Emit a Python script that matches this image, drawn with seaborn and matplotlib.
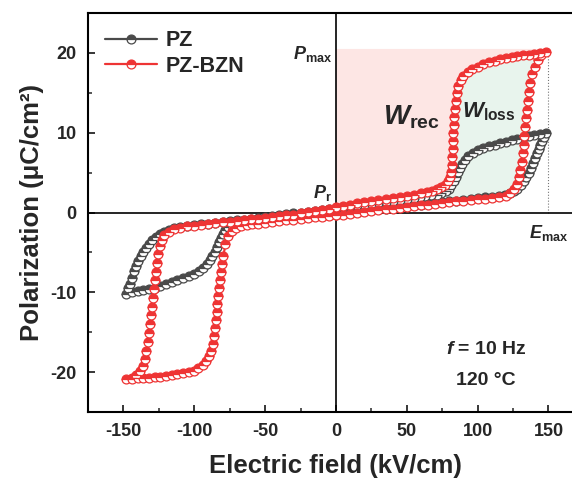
import numpy as np
import pandas as pd
import matplotlib
matplotlib.use("Agg")
import matplotlib.pyplot as plt
from matplotlib.ticker import MultipleLocator
import seaborn as sns

# ---------------- data ----------------
# PZ-BZN loop, four branches: A (0 -> +Emax), B (+Emax -> 0), C (0 -> -Emax), D (-Emax -> 0)
bzn_A_E = [0, 5, 10, 15, 20, 25, 30, 35, 40, 45, 50, 55, 60, 65, 70, 75, 80, 85, 90, 95, 100, 105, 110, 115, 120,
           123, 125.5, 127.5, 129, 130, 131, 131.8, 132.5, 133, 133.5, 134, 134.6, 135.3, 136.2, 137.3, 138.7,
           140.5, 142.5, 145, 148]
bzn_A_P = [-0.35, -0.25, -0.15, 0.0, 0.1, 0.2, 0.3, 0.4, 0.5, 0.6, 0.7, 0.8, 0.9, 1.0, 1.1, 1.2, 1.3, 1.4, 1.5, 1.55,
           1.65, 1.75, 1.85, 1.95, 2.1, 2.4, 2.9, 3.6, 4.4, 5.3, 6.3, 7.4, 8.5, 9.6, 10.7, 11.8, 12.9, 14.0, 15.1,
           16.2, 17.3, 18.3, 19.1, 19.7, 20.1]
bzn_B_E = [148, 144, 140, 136, 132, 128, 124, 120, 116, 112, 108, 104, 100, 96, 93, 90, 88, 86.5, 85.5, 84.7, 84.1,
           83.6, 83.2, 82.9, 82.6, 82.3, 82, 81.6, 81.1, 80.3, 79, 77, 74.5, 71.5, 68, 64, 60, 55, 50, 45, 40, 35,
           30, 25, 20, 15, 10, 5, 0]
bzn_B_P = [20.1, 20.0, 19.9, 19.8, 19.7, 19.6, 19.5, 19.35, 19.2, 19.05, 18.85, 18.6, 18.3, 17.95, 17.6, 17.1, 16.6,
           15.9, 15.0, 14.0, 13.0, 12.0, 11.0, 10.0, 9.0, 8.0, 7.0, 6.0, 5.1, 4.4, 3.9, 3.5, 3.15, 2.9, 2.7, 2.55,
           2.4, 2.25, 2.1, 1.95, 1.8, 1.7, 1.6, 1.45, 1.3, 1.15, 1.0, 0.8, 0.65]
bzn_C_E = [0, -5, -10, -15, -20, -25, -30, -35, -40, -45, -50, -55, -60, -65, -70, -75, -80, -85, -90, -95, -100,
           -105, -110, -114, -118, -121, -123, -124.5, -125.5, -126.3, -127, -127.7, -128.4, -129.1, -129.8,
           -130.5, -131.2, -132, -132.8, -133.8, -135, -136.5, -138.5, -141, -144, -148]
bzn_C_P = [0.65, 0.5, 0.35, 0.2, 0.05, -0.1, -0.25, -0.35, -0.45, -0.55, -0.65, -0.75, -0.85, -0.95, -1.05, -1.15,
           -1.25, -1.35, -1.45, -1.55, -1.65, -1.75, -1.9, -2.1, -2.4, -2.8, -3.4, -4.2, -5.2, -6.3, -7.4, -8.5,
           -9.6, -10.7, -11.8, -12.9, -14.0, -15.1, -16.2, -17.3, -18.3, -19.2, -19.9, -20.4, -20.7, -20.9]
bzn_D_E = [-148, -144, -140, -136, -132, -128, -124, -120, -116, -112, -108, -104, -100, -97, -94, -91.5, -89.5,
           -88, -86.8, -85.9, -85.2, -84.6, -84.1, -83.6, -83.1, -82.6, -82, -81.3, -80.5, -79.5, -78, -76, -73.5,
           -70.5, -67, -63, -59, -55, -50, -45, -40, -35, -30, -25, -20, -15, -10, -5, 0]
bzn_D_P = [-20.9, -20.85, -20.8, -20.75, -20.7, -20.65, -20.6, -20.5, -20.4, -20.3, -20.15, -20.0, -19.8, -19.5,
           -19.1, -18.6, -18.0, -17.3, -16.5, -15.5, -14.5, -13.5, -12.5, -11.5, -10.5, -9.5, -8.5, -7.5, -6.5,
           -5.5, -4.0, -3.0, -2.3, -1.9, -1.7, -1.6, -1.5, -1.42, -1.3, -1.2, -1.1, -1.0, -0.9, -0.8, -0.7, -0.6,
           -0.5, -0.4, -0.35]

# PZ loop
pz_A_E = [0, 5, 10, 15, 20, 25, 30, 35, 40, 45, 50, 55, 60, 65, 70, 75, 80, 85, 90, 95, 100, 105, 110, 115,
          119, 122.5, 125.5, 128, 130.3, 132.4, 134.3, 136, 137.6, 139.1, 140.5, 141.8, 143, 144.2, 145.4, 146.6, 148]
pz_A_P = [-0.2, -0.1, 0.0, 0.1, 0.2, 0.3, 0.4, 0.5, 0.6, 0.7, 0.8, 0.9, 1.0, 1.1, 1.2, 1.3, 1.4, 1.5, 1.6, 1.7,
          1.8, 1.9, 2.0, 2.1, 2.25, 2.45, 2.7, 3.0, 3.4, 3.9, 4.4, 5.0, 5.6, 6.2, 6.8, 7.4, 8.0, 8.5, 9.0, 9.5, 10.0]
pz_B_E = [148, 144, 140, 136, 132, 128, 124, 120, 116, 112, 108, 104, 100, 96.5, 93.5, 91, 89, 87.3, 85.8, 84.4,
          83, 81.5, 79.8, 77.5, 74.5, 71, 67, 63, 59, 55, 50, 45, 40, 35, 30, 25, 20, 15, 10, 5, 0]
pz_B_P = [10.0, 9.85, 9.7, 9.55, 9.4, 9.25, 9.1, 8.9, 8.7, 8.5, 8.3, 8.05, 7.8, 7.45, 7.05, 6.6, 6.1, 5.6, 5.05,
          4.5, 3.95, 3.45, 3.0, 2.65, 2.4, 2.25, 2.15, 2.05, 1.95, 1.85, 1.75, 1.6, 1.5, 1.35, 1.25, 1.1, 1.0,
          0.9, 0.8, 0.7, 0.6]
pz_C_E = [0, -5, -10, -15, -20, -25, -30, -35, -40, -45, -50, -55, -60, -65, -70, -75, -80, -85, -90, -95, -100,
          -105, -110, -114, -118, -121.5, -124.5, -127.2, -129.7, -132, -134.1, -136, -137.8, -139.5, -141.1,
          -142.6, -144, -145.4, -146.7, -148]
pz_C_P = [0.6, 0.48, 0.36, 0.24, 0.12, 0.0, -0.12, -0.24, -0.36, -0.48, -0.6, -0.7, -0.8, -0.9, -1.0, -1.1, -1.2,
          -1.3, -1.4, -1.5, -1.6, -1.7, -1.8, -1.95, -2.15, -2.4, -2.7, -3.05, -3.45, -3.9, -4.4, -4.95, -5.5,
          -6.1, -6.7, -7.3, -8.2, -8.9, -9.5, -10.2]
pz_D_E = [-148, -144, -140, -136, -132, -128, -124, -120, -116, -112, -108, -104, -100, -96.5, -93.5, -91, -89,
          -87.3, -85.7, -84.2, -82.7, -81.2, -79.7, -78, -76, -73.5, -70.5, -67, -63, -59, -55, -50, -45, -40,
          -35, -30, -25, -20, -15, -10, -5, 0]
pz_D_P = [-10.2, -10.0, -9.85, -9.7, -9.55, -9.4, -9.2, -9.0, -8.75, -8.5, -8.25, -8.0, -7.7, -7.35, -6.95, -6.5,
          -6.0, -5.5, -4.9, -4.3, -3.7, -3.15, -2.65, -2.2, -1.85, -1.6, -1.45, -1.35, -1.25, -1.2, -1.1, -1.0,
          -0.9, -0.8, -0.7, -0.6, -0.5, -0.45, -0.35, -0.3, -0.25, -0.2]

series_names = ["PZ", "PZ-BZN"]
series_colors = ["#4a4a4a", "#ee3434"]
P_max_level = 20.5
E_max_level = 150
x_ticks = [-150, -100, -50, 0, 50, 100, 150]
y_ticks = [-20, -10, 0, 10, 20]

# ---------------- style ----------------
sns.set_theme(style="ticks")
plt.rcParams["font.family"] = ["Liberation Sans", "DejaVu Sans"]
plt.rcParams["font.weight"] = "bold"
plt.rcParams["axes.unicode_minus"] = False
plt.rcParams["mathtext.fontset"] = "custom"
plt.rcParams["mathtext.rm"] = "Liberation Sans:bold"
plt.rcParams["mathtext.bf"] = "Liberation Sans:bold"
plt.rcParams["mathtext.it"] = "Liberation Sans:italic:bold"
plt.rcParams["mathtext.default"] = "bf"

fig = plt.figure(figsize=(5.72, 4.83), dpi=100)
ax = fig.add_axes([0.1538, 0.147, 0.867, 0.826])

def loop(Ea, Pa, Eb, Pb, Ec, Pc, Ed, Pd):
    E = list(Ea) + list(Eb[1:]) + list(Ec[1:]) + list(Ed[1:])
    P = list(Pa) + list(Pb[1:]) + list(Pc[1:]) + list(Pd[1:])
    return pd.DataFrame({"E": E, "P": P})

df_pz = loop(pz_A_E, pz_A_P, pz_B_E, pz_B_P, pz_C_E, pz_C_P, pz_D_E, pz_D_P)
df_bzn = loop(bzn_A_E, bzn_A_P, bzn_B_E, bzn_B_P, bzn_C_E, bzn_C_P, bzn_D_E, bzn_D_P)

# ---------------- energy areas ----------------
# W_rec: left of discharge branch of PZ-BZN, up to P_max
rec_E = [0] + bzn_B_E[::-1] + [E_max_level, E_max_level, 0]
rec_P = [bzn_B_P[-1]] + bzn_B_P[::-1] + [bzn_B_P[0], P_max_level, P_max_level]
ax.fill(rec_E, rec_P, color="#fde6e4", lw=0, zorder=0)
# W_loss: inside positive half loop
loss_E = bzn_A_E + bzn_B_E[1:]
loss_P = bzn_A_P + bzn_B_P[1:]
ax.fill(loss_E, loss_P, color="#e8f4ed", lw=0, zorder=0.5)

ax.plot([E_max_level, E_max_level], [0, P_max_level], color="#777777", lw=0.8, ls=":", zorder=1)
ax.axhline(0, color="black", lw=1.2, zorder=1)
ax.axvline(0, color="black", lw=1.2, zorder=1)

# ---------------- loops ----------------
for df, name, col in zip([df_pz, df_bzn], series_names, series_colors):
    sns.lineplot(data=df, x="E", y="P", sort=False, estimator=None, ax=ax,
                 color=col, lw=1.6, marker="o", markersize=6.4,
                 fillstyle="top", markerfacecolor=col, markerfacecoloralt="white",
                 markeredgecolor=col, markeredgewidth=0.9, label=name, zorder=3)

ax.set_xlim(-175, 175)
ax.set_ylim(-25, 25)
ax.set_xticks(x_ticks)
ax.set_yticks(y_ticks)
ax.xaxis.set_minor_locator(MultipleLocator(25))
ax.yaxis.set_minor_locator(MultipleLocator(5))
ax.tick_params(which="major", direction="in", length=5, width=1.3, labelsize=13, pad=8)
ax.tick_params(which="minor", direction="in", length=3, width=1.1)
for lab in ax.get_xticklabels() + ax.get_yticklabels():
    lab.set_fontweight("bold")
for sp in ax.spines.values():
    sp.set_linewidth(1.5)
    sp.set_color("black")

ax.set_xlabel("Electric field (kV/cm)", fontsize=18.5, fontweight="bold", labelpad=10)
ax.set_ylabel("Polarization (μC/cm²)", fontsize=18.5, fontweight="bold", labelpad=5)

leg = ax.legend(loc="upper left", frameon=False, fontsize=15.5, handlelength=2.4,
                handletextpad=0.4, borderaxespad=0.4, labelspacing=0.2, numpoints=1)
for t in leg.get_texts():
    t.set_fontweight("bold")

# ---------------- annotations ----------------
ax.text(-3, 19.9, r"$\mathit{P}_{\mathrm{max}}$", fontsize=13, ha="right", va="center")
ax.text(53, 12.0, r"$\mathit{W}_{\mathrm{rec}}$", fontsize=20, ha="center", va="center")
ax.text(108, 12.6, r"$\mathit{W}_{\mathrm{loss}}$", fontsize=16, ha="center", va="center")
ax.text(-3, 2.4, r"$\mathit{P}_{\mathrm{r}}$", fontsize=13, ha="right", va="center")
ax.text(136, -2.6, r"$\mathit{E}_{\mathrm{max}}$", fontsize=13, ha="left", va="center")
ax.text(106, -17.2, r"$\mathit{f}$ = 10 Hz", fontsize=14, ha="center", va="center")
ax.text(106, -21.1, "120 °C", fontsize=14, ha="center", va="center", fontweight="bold")

fig.savefig("out.png", dpi=100)
